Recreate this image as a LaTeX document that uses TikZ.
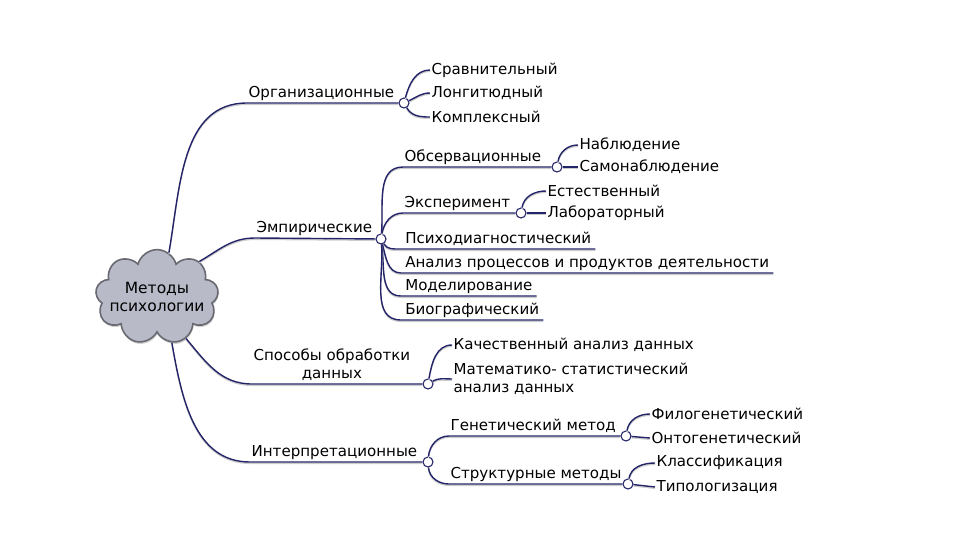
\documentclass[tikz,border=0pt]{standalone}
\usepackage{fontspec}
\setmainfont{DejaVu Sans}
\usetikzlibrary{positioning,shapes.symbols,shadows}

\begin{document}
\begin{tikzpicture}[x=0.75pt,y=-0.75pt]
  % Définition des couleurs
  \definecolor{bleunuit}{RGB}{36,36,104}
  \definecolor{grisnuage}{RGB}{184,186,200}
  \definecolor{grisbord}{RGB}{105,105,114}

  \tikzset{
    texte/.style={font=\fontsize{11.3}{13.5}\selectfont, inner sep=1pt},
    souligne/.style={texte, anchor=south west, text height=8pt, text depth=3pt},
    feuille/.style={texte, anchor=west},
    lien/.style={draw=bleunuit, line width=1.05pt,
      preaction={draw=black!20, line width=1pt, transform canvas={yshift=-1pt}}},
    noeudrond/.style={circle, draw=bleunuit, fill=white, line width=0.8pt,
      minimum size=7.5pt, inner sep=0pt}
  }

  \useasboundingbox (0,0) rectangle (960,540);

  % Nuage central
  \node[cloud, cloud puffs=9, aspect=1.6, draw=grisbord, line width=1.2pt,
        fill=grisnuage, inner sep=-6pt, minimum width=88pt, minimum height=58pt,
        align=center, drop shadow={opacity=0.35, shadow xshift=0.5pt, shadow yshift=-1.5pt},
        font=\fontsize{11.6}{13.5}\selectfont] (methodes) at (157,297) {Методы\\психологии};

  % --- Branche "Организационные" ---
  \node[souligne] (org) at (247,103) {Организационные};
  \node[noeudrond] (korg) at (404,103) {};
  \draw[lien] (methodes.75) to[out=80,in=180] (org.south west) -- (korg);

  \node[feuille] (srav) at (430,70) {Сравнительный};
  \node[feuille] (longi) at (430,93) {Лонгитюдный};
  \node[feuille] (kompl) at (430,117) {Комплексный};
  \draw[lien] (korg) to[out=75,in=180] (srav.west);
  \draw[lien] (korg) to[out=25,in=180] (longi.west);
  \draw[lien] (korg) to[out=-60,in=180] (kompl.west);

  % --- Branche "Эмпирические" ---
  \node[souligne] (emp) at (255,238) {Эмпирические};
  \node[noeudrond] (kemp) at (381,239) {};
  \draw[lien] (methodes.40) to[out=30,in=180] (emp.south west) -- (kemp);

  % Обсервационные
  \node[souligne] (obs) at (403,167) {Обсервационные};
  \node[noeudrond] (kobs) at (557,167) {};
  \draw[lien] (kemp) to[out=85,in=180] (obs.south west) -- (kobs);
  \node[feuille] (nabl) at (578,145) {Наблюдение};
  \node[feuille] (samo) at (578,167) {Самонаблюдение};
  \draw[lien] (kobs) to[out=80,in=180] (nabl.west);
  \draw[lien] (kobs) -- (samo.west);

  % Эксперимент
  \node[souligne] (expe) at (403,213) {Эксперимент};
  \node[noeudrond] (kexp) at (521,213) {};
  \draw[lien] (kemp) to[out=80,in=180] (expe.south west) -- (kexp);
  \node[feuille] (este) at (546,191) {Естественный};
  \node[feuille] (labo) at (546,213) {Лабораторный};
  \draw[lien] (kexp) to[out=80,in=180] (este.west);
  \draw[lien] (kexp) -- (labo.west);

  % Feuilles soulignées
  \node[souligne, inner xsep=3pt] (psy) at (401,249) {Психодиагностический};
  \node[souligne, inner xsep=3pt] (anal) at (401,273) {Анализ процессов и продуктов деятельности};
  \node[souligne, inner xsep=3pt] (model) at (401,296) {Моделирование};
  \node[souligne, inner xsep=3pt] (bio) at (401,320) {Биографический};
  \draw[lien] (kemp) to[out=-60,in=180] (psy.south west) -- (psy.south east);
  \draw[lien] (kemp) to[out=-75,in=180] (anal.south west) -- (anal.south east);
  \draw[lien] (kemp) to[out=-82,in=180] (model.south west) -- (model.south east);
  \draw[lien] (kemp) to[out=-85,in=180] (bio.south west) -- (bio.south east);

  % --- Branche "Способы обработки данных" ---
  \node[texte, anchor=south west, align=center, inner ysep=2pt] (spo) at (252,384) {Способы обработки\\данных};
  \node[noeudrond] (kspo) at (428,384) {};
  \draw[lien] (methodes.-55) to[out=-50,in=180] (spo.south west) -- (kspo);
  \node[feuille] (kach) at (452,345) {Качественный анализ данных};
  \node[feuille, align=left] (mate) at (452,379) {Математико- статистический\\анализ данных};
  \draw[lien] (kspo) to[out=80,in=180] (kach.west);
  \draw[lien] (kspo) to[out=30,in=180] (mate.west);

  % --- Branche "Интерпретационные" ---
  \node[souligne] (interp) at (250,462) {Интерпретационные};
  \node[noeudrond] (kint) at (428,462) {};
  \draw[lien] (methodes.-72) to[out=-80,in=180] (interp.south west) -- (kint);

  % Генетический метод
  \node[souligne] (gen) at (449,436) {Генетический метод};
  \node[noeudrond] (kgen) at (626,436) {};
  \draw[lien] (kint) to[out=85,in=180] (gen.south west) -- (kgen);
  \node[feuille] (filo) at (650,414) {Филогенетический};
  \node[feuille] (onto) at (650,438) {Онтогенетический};
  \draw[lien] (kgen) to[out=80,in=180] (filo.west);
  \draw[lien] (kgen) -- (onto.west);

  % Структурные методы
  \node[souligne] (stru) at (449,484) {Структурные методы};
  \node[noeudrond] (kstr) at (628,484) {};
  \draw[lien] (kint) to[out=-85,in=180] (stru.south west) -- (kstr);
  \node[feuille] (klas) at (655,463) {Классификация};
  \node[feuille] (tipo) at (655,487) {Типологизация};
  \draw[lien] (kstr) to[out=80,in=180] (klas.west);
  \draw[lien] (kstr) -- (tipo.west);

\end{tikzpicture}
\end{document}
